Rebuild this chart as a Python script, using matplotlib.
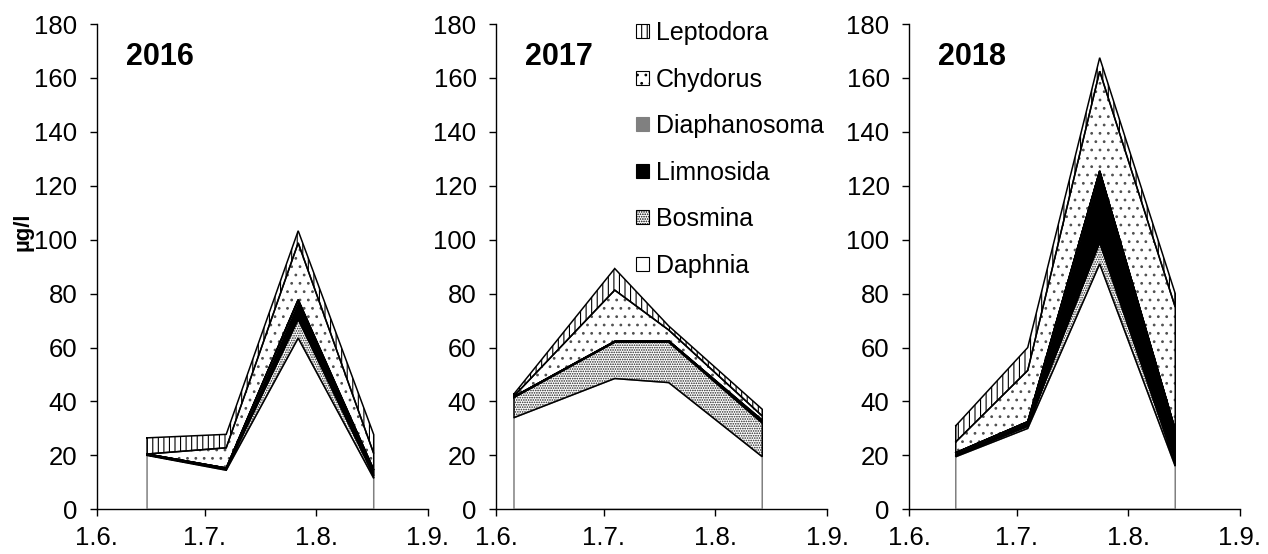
import matplotlib
matplotlib.use('Agg')
import matplotlib.pyplot as plt
import matplotlib.dates as mdates
from matplotlib.patches import Patch
import numpy as np

plt.rcParams['font.family'] = ['Liberation Sans', 'DejaVu Sans']
plt.rcParams['hatch.linewidth'] = 0.8

# Biomasse der Cladoceren (µg/l), je Art und Probentermin
species = ['Daphnia', 'Bosmina', 'Limnosida', 'Diaphanosoma', 'Chydorus', 'Leptodora']

dates_2016 = ['2016-06-15', '2016-07-07', '2016-07-27', '2016-08-17']
daphnia_2016 = [20, 14.5, 63.5, 11.5]
bosmina_2016 = [0.2, 0.3, 7, 1]
limnosida_2016 = [0.3, 0.5, 7, 2]
diaphanosoma_2016 = [0, 0, 0.3, 0.2]
chydorus_2016 = [0, 7.5, 21, 6]
leptodora_2016 = [6, 5, 4.5, 7]

dates_2017 = ['2017-06-06', '2017-07-04', '2017-07-19', '2017-08-14']
daphnia_2017 = [34, 48.5, 47, 19.5]
bosmina_2017 = [7.5, 13.5, 15, 12.5]
limnosida_2017 = [0.3, 0.3, 0.5, 0.8]
diaphanosoma_2017 = [0, 0, 0, 0.3]
chydorus_2017 = [0.2, 19, 4, 1.5]
leptodora_2017 = [0.8, 8, 1.5, 2.5]

dates_2018 = ['2018-06-14', '2018-07-04', '2018-07-24', '2018-08-14']
daphnia_2018 = [19.5, 30, 91, 16]
bosmina_2018 = [0.5, 0.8, 8, 1]
limnosida_2018 = [1, 1.7, 26.5, 12.5]
diaphanosoma_2018 = [0, 0, 0, 0]
chydorus_2018 = [4, 19, 37, 45.5]
leptodora_2018 = [6, 8.5, 5, 5]

years = ['2016', '2017', '2018']
year_dates = [dates_2016, dates_2017, dates_2018]
year_values = [
    [daphnia_2016, bosmina_2016, limnosida_2016, diaphanosoma_2016, chydorus_2016, leptodora_2016],
    [daphnia_2017, bosmina_2017, limnosida_2017, diaphanosoma_2017, chydorus_2017, leptodora_2017],
    [daphnia_2018, bosmina_2018, limnosida_2018, diaphanosoma_2018, chydorus_2018, leptodora_2018],
]

# Füllung: (Fläche, Schraffur, Schraffurfarbe, Randfarbe)
styles = {
    'Daphnia':      ('white', None, 'white', '#808080'),
    'Bosmina':      ('white', '.......', '#202020', 'black'),
    'Limnosida':    ('black', None, 'black', 'black'),
    'Diaphanosoma': ('#808080', None, '#808080', 'black'),
    'Chydorus':     ('white', '..', '#505050', 'black'),
    'Leptodora':    ('white', '|||', 'black', 'black'),
}

fig = plt.figure(figsize=(12.68, 5.54), dpi=100)
lefts = [96.7 / 1268, 496 / 1268, 909 / 1268]
bottom = (554 - 509.3) / 554
height = 485.3 / 554
width = 331 / 1268

axes = []
for k, year in enumerate(years):
    ax = fig.add_axes([lefts[k], bottom, width, height])
    axes.append(ax)
    x = mdates.date2num(np.array(year_dates[k], dtype='datetime64[D]'))
    lower = np.zeros(len(x))
    for name, vals in zip(species, year_values[k]):
        upper = lower + np.array(vals)
        face, hatch, hcol, ecol = styles[name]
        ax.fill_between(x, lower, upper, facecolor=face, hatch=hatch,
                        edgecolor=hcol, linewidth=0, zorder=2)
        px = np.r_[x, x[::-1], x[:1]]
        py = np.r_[upper, lower[::-1], upper[:1]]
        ax.plot(px, py, color=ecol, lw=1.1, zorder=3, solid_joinstyle='miter')
        lower = upper

    ax.set_xlim(mdates.datestr2num(f'{year}-06-01'), mdates.datestr2num(f'{year}-09-01'))
    ax.set_ylim(0, 180)
    ax.set_yticks(range(0, 181, 20))
    ax.xaxis.set_major_locator(mdates.MonthLocator(bymonth=[6, 7, 8, 9]))
    ax.xaxis.set_major_formatter(plt.FuncFormatter(
        lambda v, p: f'{mdates.num2date(v).day}.{mdates.num2date(v).month}.'))
    for s in ['top', 'right']:
        ax.spines[s].set_visible(False)
    for s in ['left', 'bottom']:
        ax.spines[s].set_linewidth(1.0)
    ax.tick_params(axis='y', direction='out', length=5, width=1, labelsize=18.5, pad=9)
    ax.tick_params(axis='x', direction='out', length=5, width=1, labelsize=18.5, pad=7)
    ax.text(0.088, 0.915, year, transform=ax.transAxes, fontsize=22,
            fontweight='bold', ha='left', va='baseline')

fig.text(23 / 1268, 1 - 232 / 554, 'µg/l', rotation=90, fontsize=16,
         fontweight='bold', ha='center', va='center')

handles = []
for name in species[::-1]:
    face, hatch, hcol, ecol = styles[name]
    edge = 'black' if name != 'Diaphanosoma' else '#808080'
    handles.append(Patch(facecolor=face, hatch=hatch, edgecolor=edge, linewidth=0.8,
                         label=name))
fig.legend(handles=handles, loc='upper left', bbox_to_anchor=(636 / 1268, 1 - 21 / 554),
           frameon=False, fontsize=18, handlelength=0.5, handleheight=0.5,
           handletextpad=0.3, labelspacing=0.9, borderpad=0, borderaxespad=0)

fig.savefig('out.png', dpi=100, facecolor='white')
